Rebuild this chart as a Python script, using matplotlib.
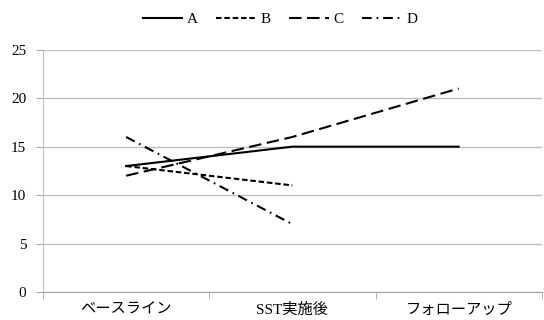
import matplotlib
matplotlib.use("Agg")
import matplotlib.pyplot as plt

plt.rcParams['font.family'] = ['Liberation Serif', 'Noto Sans CJK JP', 'DejaVu Sans']
plt.rcParams['lines.scale_dashes'] = False

categories = ['ベースライン', 'SST実施後', 'フォローアップ']
series_names = ['A', 'B', 'C', 'D']
a_vals = [13, 15, 15]
b_vals = [13, 11, None]
c_vals = [12, 16, 21]
d_vals = [16, 7, None]

styles = ['-', (0, (4, 2)), (0, (9, 4)), (0, (7, 3.5, 1.2, 3.5))]

fig = plt.figure(figsize=(5.44, 3.2), dpi=100)
ax = fig.add_axes([0.079, 0.0875, 0.917, 0.757])

x = list(range(len(categories)))
for name, vals, ls in zip(series_names, [a_vals, b_vals, c_vals, d_vals], styles):
    xs = [i for i, v in zip(x, vals) if v is not None]
    ys = [v for v in vals if v is not None]
    ax.plot(xs, ys, color='black', linewidth=1.5, linestyle=ls, label=name)

ax.set_xlim(-0.5, 2.5)
ax.set_ylim(0, 25)
ax.set_yticks([0, 5, 10, 15, 20, 25])
ax.set_xticks(x)
ax.set_xticklabels(categories)
ax.set_xticks([-0.5, 0.5, 1.5, 2.5], minor=True)
ax.tick_params(axis='x', which='major', length=0, pad=8, labelsize=11)
ax.tick_params(axis='x', which='minor', length=5, color='#a6a6a6')
ax.tick_params(axis='y', length=5, color='#a6a6a6', labelsize=11, pad=7)
ax.yaxis.grid(True, color='#bfbfbf', linewidth=1)
ax.set_axisbelow(True)
for side in ['top', 'right']:
    ax.spines[side].set_visible(False)
ax.spines['left'].set_color('#bfbfbf')
ax.spines['bottom'].set_color('#a6a6a6')

ax.legend(loc='lower center', bbox_to_anchor=(0.475, 1.04), ncol=4, frameon=False,
          fontsize=11, handlelength=2.6, handletextpad=0.3, columnspacing=1.2)

fig.savefig('out.png', dpi=100)
